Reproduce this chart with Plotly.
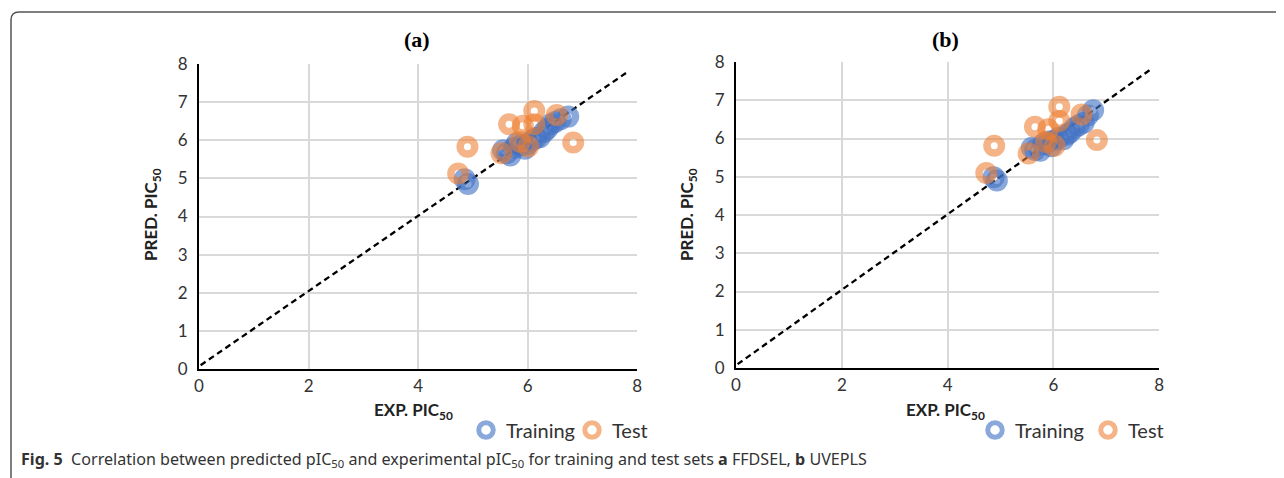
import plotly.graph_objects as go

# the page body adds an 8px offset; the figure is sized to fit the window after it
OFF = 8
W, H = 1284 - OFF, 478 - OFF

# ---------------- data ----------------
# Panel (a) FFDSEL
a_train_exp  = [4.85, 4.91, 5.55, 5.62, 5.68, 5.75, 5.80, 5.88, 5.95, 6.00, 6.08, 6.15, 6.22, 6.30, 6.36, 6.42, 6.50, 6.60, 6.74]
a_train_pred = [4.98, 4.85, 5.74, 5.66, 5.60, 5.80, 5.92, 5.86, 5.78, 5.90, 6.00, 6.05, 6.08, 6.22, 6.30, 6.42, 6.48, 6.55, 6.62]
a_test_exp   = [6.12, 6.53, 5.66, 5.91, 6.12, 4.90, 6.83, 5.86, 6.01, 5.52, 4.73]
a_test_pred  = [6.77, 6.66, 6.42, 6.38, 6.42, 5.83, 5.94, 5.96, 5.84, 5.66, 5.13]

# Panel (b) UVEPLS
b_train_exp  = [4.87, 4.93, 5.59, 5.65, 5.75, 5.80, 5.90, 5.96, 6.02, 6.10, 6.19, 6.25, 6.31, 6.40, 6.48, 6.57, 6.65, 6.75]
b_train_pred = [4.99, 4.90, 5.76, 5.70, 5.68, 5.85, 5.92, 5.80, 5.95, 6.02, 5.98, 6.10, 6.15, 6.28, 6.35, 6.41, 6.60, 6.74]
b_test_exp   = [6.11, 6.53, 5.65, 5.90, 6.11, 4.88, 6.82, 5.86, 6.02, 5.53, 4.73]
b_test_pred  = [6.83, 6.63, 6.31, 6.24, 6.46, 5.81, 5.96, 5.91, 5.81, 5.61, 5.10]

# reference (y = x) dashed line end points
diag_x = [0.03, 7.83]
diag_y = [0.10, 7.80]

tick_vals_x = [0, 2, 4, 6, 8]
tick_vals_y = [0, 1, 2, 3, 4, 5, 6, 7, 8]

panel_titles = ["(a)", "(b)"]
caption = ("<b>Fig. 5</b>  Correlation between predicted pIC<sub>50</sub> and experimental "
           "pIC<sub>50</sub> for training and test sets <b>a</b> FFDSEL, <b>b</b> UVEPLS")

# ---------------- styling ----------------
BLUE = "rgba(68,114,196,0.62)"
ORANGE = "rgba(237,125,49,0.58)"
FONT = "Lato"

def px_x(p):
    return (p - OFF) / W

def px_y(p):
    return 1 - (p - OFF) / H

fig = go.Figure()

panels = [
    dict(tr=(a_train_exp, a_train_pred), te=(a_test_exp, a_test_pred),
         xd=(199, 637.3), yd=(369, 64), xa="x", ya="y", leg="legend"),
    dict(tr=(b_train_exp, b_train_pred), te=(b_test_exp, b_test_pred),
         xd=(736, 1159.3), yd=(368, 62), xa="x2", ya="y2", leg="legend2"),
]

for i, p in enumerate(panels):
    fig.add_trace(go.Scatter(
        x=diag_x, y=diag_y, mode="lines", xaxis=p["xa"], yaxis=p["ya"],
        line=dict(color="black", width=2.3, dash="6px,4px"), showlegend=False, hoverinfo="skip"))
    fig.add_trace(go.Scatter(
        x=p["tr"][0], y=p["tr"][1], mode="markers", name="Training",
        xaxis=p["xa"], yaxis=p["ya"], legend=p["leg"],
        marker=dict(symbol="circle-open", size=14.5, color=BLUE, line=dict(width=7.5, color=BLUE))))
    fig.add_trace(go.Scatter(
        x=p["te"][0], y=p["te"][1], mode="markers", name="Test",
        xaxis=p["xa"], yaxis=p["ya"], legend=p["leg"],
        marker=dict(symbol="circle-open", size=14.5, color=ORANGE, line=dict(width=7.5, color=ORANGE))))

axis_common = dict(
    showgrid=True, gridcolor="#d9d9d9", gridwidth=1.5,
    showline=True, linecolor="black", linewidth=2,
    zeroline=False, ticks="", fixedrange=True, automargin=False,
    tickfont=dict(family=FONT, size=17, color="#333"),
)

layout = dict(
    width=W, height=H,
    margin=dict(l=0, r=0, t=0, b=0, pad=0, autoexpand=False),
    paper_bgcolor="white", plot_bgcolor="white",
    showlegend=True,
)

for i, p in enumerate(panels):
    sfx = "" if i == 0 else "2"
    layout["xaxis" + sfx] = dict(axis_common, range=[0, 8], tickvals=tick_vals_x,
                                 domain=[px_x(p["xd"][0]), px_x(p["xd"][1])],
                                 anchor="y" + sfx, mirror=False, ticklabelstandoff=1)
    layout["yaxis" + sfx] = dict(axis_common, range=[0, 8], tickvals=tick_vals_y,
                                 domain=[px_y(p["yd"][0]), px_y(p["yd"][1])],
                                 anchor="x" + sfx, ticklabelstandoff=6)

layout["legend"] = dict(orientation="h", x=px_x(466), y=px_y(430), xanchor="left", yanchor="middle",
                        font=dict(family=FONT, size=20, color="#333"), bgcolor="rgba(0,0,0,0)",
                        itemwidth=30, traceorder="normal", entrywidth=61, entrywidthmode="pixels")
layout["legend2"] = dict(orientation="h", x=px_x(975), y=px_y(430), xanchor="left", yanchor="middle",
                         font=dict(family=FONT, size=20, color="#333"), bgcolor="rgba(0,0,0,0)",
                         itemwidth=30, traceorder="normal", entrywidth=68, entrywidthmode="pixels")

fig.update_layout(**layout)

ann = []
title_pos = [(417, 40), (945, 40)]
xt_pos = [(413, 411), (945, 411)]
yt_pos = [(152, 215), (688, 215)]
for i in range(2):
    ann.append(dict(text="<b>%s</b>" % panel_titles[i], x=px_x(title_pos[i][0]), y=px_y(title_pos[i][1]),
                    xref="paper", yref="paper", showarrow=False, xanchor="center", yanchor="middle",
                    font=dict(family="Liberation Serif", size=22, color="black")))
    ann.append(dict(text="<b>EXP. PIC<sub>50</sub></b>", x=px_x(xt_pos[i][0]), y=px_y(xt_pos[i][1]),
                    xref="paper", yref="paper", showarrow=False, xanchor="center", yanchor="middle",
                    font=dict(family=FONT, size=17, color="#222")))
    ann.append(dict(text="<b>PRED. PIC<sub>50</sub></b>", x=px_x(yt_pos[i][0]), y=px_y(yt_pos[i][1]),
                    xref="paper", yref="paper", showarrow=False, textangle=-90,
                    xanchor="center", yanchor="middle",
                    font=dict(family=FONT, size=17, color="#222")))
ann.append(dict(text=caption, x=px_x(19), y=px_y(459), xref="paper", yref="paper",
                xanchor="left", yanchor="middle", showarrow=False,
                font=dict(family="Noto Sans", size=16.1, color="#333")))
fig.update_layout(annotations=ann)

# rounded frame (top edge grey, left edge dark)
r = 8
fig.add_shape(type="path", xref="paper", yref="paper",
              path="M %f,%f L %f,%f Q %f,%f %f,%f L %f,%f" % (
                  px_x(11), px_y(478), px_x(11), px_y(12 + r), px_x(11), px_y(12),
                  px_x(11 + r), px_y(12), px_x(1284), px_y(12)),
              line=dict(color="#555", width=1.5))

fig.write_html("out.html")
